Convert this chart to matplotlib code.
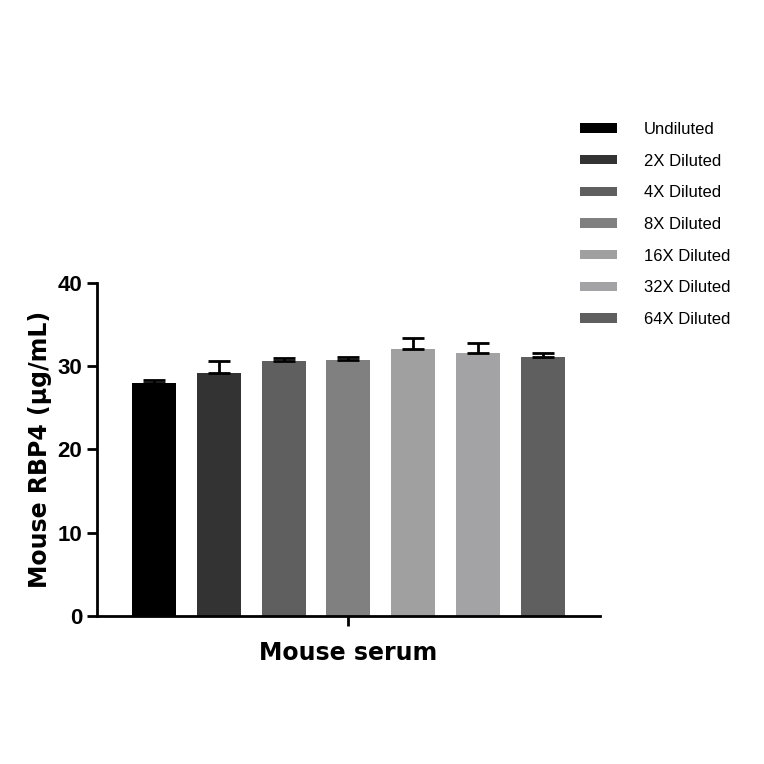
import matplotlib
matplotlib.use('Agg')
import matplotlib.pyplot as plt

labels = ['Undiluted', '2X Diluted', '4X Diluted', '8X Diluted',
          '16X Diluted', '32X Diluted', '64X Diluted']
values = [27.9, 29.2, 30.6, 30.7, 32.0, 31.6, 31.1]
errors = [0.4, 1.4, 0.4, 0.4, 1.4, 1.1, 0.4]
colors = ['#000000', '#333333', '#5f5f5f', '#808080', '#a0a0a0', '#a3a3a6', '#5f5f5f']

plt.rcParams['font.family'] = ['Liberation Sans', 'DejaVu Sans']

fig = plt.figure(figsize=(7.64, 7.64), dpi=100)
ax = fig.add_axes([0.127, 0.194, 0.658, 0.436])

x = list(range(len(values)))
for i in x:
    ax.bar(i, values[i], width=0.68, color=colors[i], label=labels[i])
    ax.errorbar(i, values[i], yerr=[[0], [errors[i]]], fmt='none',
                ecolor='black', elinewidth=2, capsize=8, capthick=2)

ax.set_xlim(-0.88, 6.88)
ax.set_ylim(0, 40)
ax.set_yticks([0, 10, 20, 30, 40])
ax.set_xticks([3])
ax.set_xticklabels([''])
ax.set_xlabel('Mouse serum', fontsize=17, fontweight='bold', family='DejaVu Sans', labelpad=8)
ax.set_ylabel('Mouse RBP4 (µg/mL)', fontsize=17, fontweight='bold', family='DejaVu Sans')
for s in ['top', 'right']:
    ax.spines[s].set_visible(False)
for s in ['left', 'bottom']:
    ax.spines[s].set_linewidth(2)
ax.tick_params(width=2, length=7, labelsize=16)
for t in ax.get_yticklabels():
    t.set_fontweight('bold')

ax.legend(loc='upper left', bbox_to_anchor=(0.74, 0.86), bbox_transform=fig.transFigure,
          frameon=False, fontsize=12, handlelength=2.2, handleheight=0.5,
          labelspacing=1.0, handletextpad=1.6)

fig.savefig('out.png', dpi=100)
